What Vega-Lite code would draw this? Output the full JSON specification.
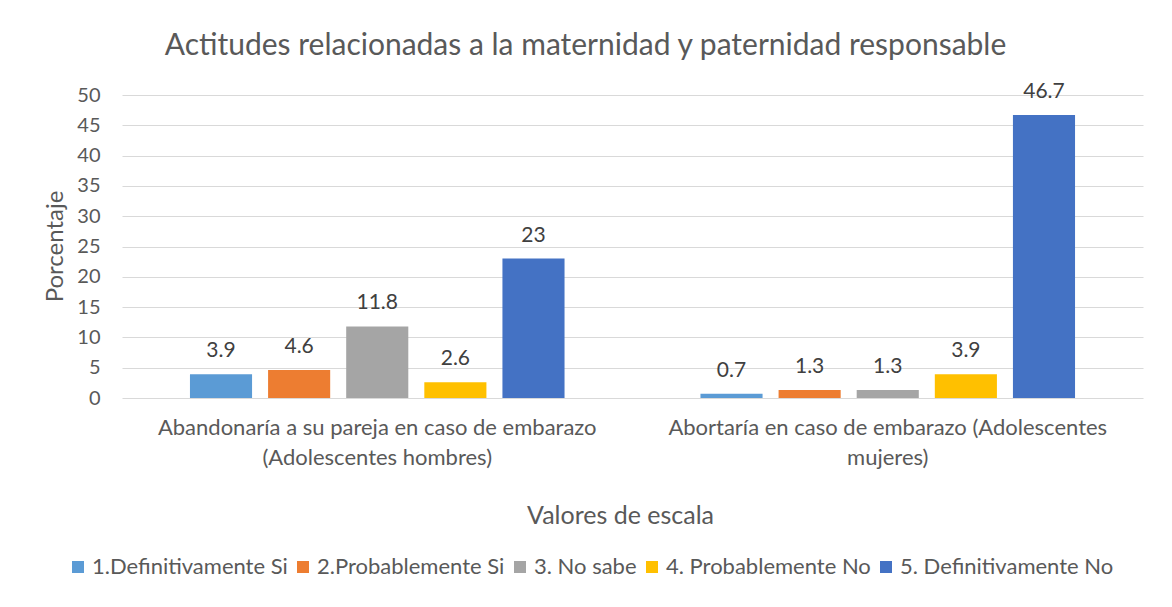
{
  "$schema": "https://vega.github.io/schema/vega-lite/v6.json",
  "width": 1021,
  "height": 303,
  "autosize": {"type": "none"},
  "padding": {"left": 122, "top": 95, "right": 29, "bottom": 209},
  "background": "white",
  "title": {
    "text": "Actitudes relacionadas a la maternidad y paternidad responsable",
    "font": "Lato",
    "fontSize": 30,
    "fontWeight": "normal",
    "color": "#595959",
    "anchor": "middle",
    "dx": -47,
    "offset": 20
  },
  "data": {
    "values": [
      {"grupo": "Abandonaría a su pareja en caso de embarazo (Adolescentes hombres)", "escala": "1.Definitivamente Si", "valor": 3.9},
      {"grupo": "Abandonaría a su pareja en caso de embarazo (Adolescentes hombres)", "escala": "2.Probablemente Si", "valor": 4.6},
      {"grupo": "Abandonaría a su pareja en caso de embarazo (Adolescentes hombres)", "escala": "3. No sabe", "valor": 11.8},
      {"grupo": "Abandonaría a su pareja en caso de embarazo (Adolescentes hombres)", "escala": "4. Probablemente No", "valor": 2.6},
      {"grupo": "Abandonaría a su pareja en caso de embarazo (Adolescentes hombres)", "escala": "5. Definitivamente No", "valor": 23},
      {"grupo": "Abortaría en caso de embarazo (Adolescentes mujeres)", "escala": "1.Definitivamente Si", "valor": 0.7},
      {"grupo": "Abortaría en caso de embarazo (Adolescentes mujeres)", "escala": "2.Probablemente Si", "valor": 1.3},
      {"grupo": "Abortaría en caso de embarazo (Adolescentes mujeres)", "escala": "3. No sabe", "valor": 1.3},
      {"grupo": "Abortaría en caso de embarazo (Adolescentes mujeres)", "escala": "4. Probablemente No", "valor": 3.9},
      {"grupo": "Abortaría en caso de embarazo (Adolescentes mujeres)", "escala": "5. Definitivamente No", "valor": 46.7}
    ]
  },
  "encoding": {
    "x": {
      "field": "grupo",
      "type": "nominal",
      "sort": null,
      "scale": {"paddingInner": 0, "paddingOuter": 0},
      "axis": {
        "title": "Valores de escala",
        "titleFont": "Lato",
        "titleFontSize": 25,
        "titleFontWeight": "normal",
        "titleColor": "#595959",
        "titleX": 498,
        "titleY": 117,
        "titleAlign": "center",
        "titleBaseline": "middle",
        "labelAngle": 0,
        "labelFont": "Lato",
        "labelFontSize": 22,
        "labelColor": "#595959",
        "labelPadding": 19,
        "labelLineHeight": 30,
        "labelLimit": 0,
        "labelExpr": "datum.label == 'Abandonaría a su pareja en caso de embarazo (Adolescentes hombres)' ? ['Abandonaría a su pareja en caso de embarazo', '(Adolescentes hombres)'] : ['Abortaría en caso de embarazo (Adolescentes', 'mujeres)']",
        "ticks": false,
        "domain": false,
        "grid": false
      }
    },
    "xOffset": {
      "field": "escala",
      "type": "nominal",
      "sort": null,
      "scale": {"paddingInner": 0.205, "paddingOuter": 0.87}
    },
    "y": {
      "field": "valor",
      "type": "quantitative",
      "scale": {"domain": [0, 50], "nice": false},
      "axis": {
        "title": "Porcentaje",
        "titleFont": "Lato",
        "titleFontSize": 24,
        "titleFontWeight": "normal",
        "titleColor": "#595959",
        "titleX": -67,
        "titleY": 151,
        "titleAlign": "center",
        "titleBaseline": "middle",
        "values": [0, 5, 10, 15, 20, 25, 30, 35, 40, 45, 50],
        "labelFont": "Lato",
        "labelFontSize": 20,
        "labelColor": "#595959",
        "labelPadding": 22,
        "ticks": false,
        "domain": false,
        "grid": true,
        "gridColor": "#d9d9d9",
        "gridWidth": 1.2
      }
    }
  },
  "layer": [
    {
      "mark": {"type": "bar"},
      "encoding": {
        "color": {
          "field": "escala",
          "type": "nominal",
          "sort": null,
          "scale": {
            "domain": ["1.Definitivamente Si", "2.Probablemente Si", "3. No sabe", "4. Probablemente No", "5. Definitivamente No"],
            "range": ["#5B9BD5", "#ED7D31", "#A5A5A5", "#FFC000", "#4472C4"]
          },
          "legend": {
            "title": null,
            "orient": "none",
            "direction": "horizontal",
            "legendX": -55,
            "legendY": 461,
            "padding": 0,
            "symbolType": "square",
            "symbolSize": 144,
            "symbolStrokeWidth": 0,
            "labelFont": "Lato",
            "labelFontSize": 22,
            "labelColor": "#595959",
            "labelOffset": 3,
            "columnPadding": 4,
            "labelLimit": 0
          }
        }
      }
    },
    {
      "mark": {"type": "text", "font": "Lato", "fontSize": 21, "color": "#404040", "baseline": "alphabetic", "dy": -17},
      "encoding": {
        "text": {"field": "valor", "type": "nominal"}
      }
    }
  ],
  "config": {
    "view": {"stroke": null}
  }
}
